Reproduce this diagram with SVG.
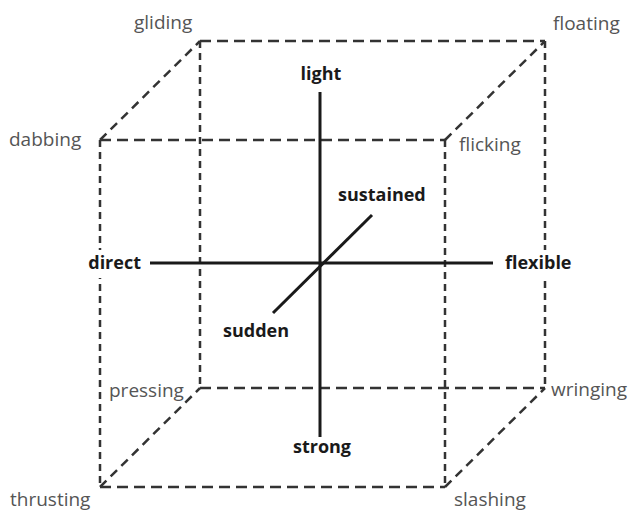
<svg xmlns="http://www.w3.org/2000/svg" width="630" height="511" viewBox="0 0 630 511">
<style>
.dh{stroke:#333;stroke-width:2.5;fill:none;stroke-dasharray:11 6}
.dv{stroke:#333;stroke-width:2.5;fill:none;stroke-dasharray:7 5}
.dd{stroke:#333;stroke-width:2.5;fill:none;stroke-dasharray:9 6}
.ax{stroke:#1a1a1a;stroke-width:3;fill:none}
.c{font-family:"Open Sans","DejaVu Sans",sans-serif;font-size:19px;fill:#555}
.b{font-family:"Open Sans","DejaVu Sans",sans-serif;font-size:18px;font-weight:bold;fill:#1a1a1a}
</style>
<rect width="630" height="511" fill="#fff"/>
<g id="connectors">
<line class="dh" x1="200" y1="41" x2="545" y2="41"/>
<line class="dh" x1="200" y1="388" x2="545" y2="388"/>
<line class="dv" x1="200" y1="41" x2="200" y2="388"/>
<line class="dv" x1="545" y1="41" x2="545" y2="388"/>
<line class="dh" x1="100" y1="140" x2="445" y2="140"/>
<line class="dh" x1="100" y1="487" x2="445" y2="487"/>
<line class="dv" x1="100" y1="140" x2="100" y2="487"/>
<line class="dv" x1="445" y1="140" x2="445" y2="487"/>
<line class="dd" x1="100" y1="140" x2="200" y2="41"/>
<line class="dd" x1="445" y1="140" x2="545" y2="41"/>
<line class="dd" x1="100" y1="487" x2="200" y2="388"/>
<line class="dd" x1="445" y1="487" x2="545" y2="388"/>
<rect x="84" y="250" width="60" height="28" fill="#fff"/>
<rect x="500" y="250" width="78" height="28" fill="#fff"/>
<line class="ax" x1="320" y1="92" x2="320" y2="437"/>
<line class="ax" x1="150" y1="263" x2="493" y2="263"/>
<line class="ax" x1="273" y1="313" x2="372" y2="215"/>
</g>
<g id="light"><text class="b" x="321" y="80" text-anchor="middle">light</text></g>
<g id="strong"><text class="b" x="322" y="453" text-anchor="middle">strong</text></g>
<g id="direct"><text class="b" x="141" y="269" text-anchor="end">direct</text></g>
<g id="flexible"><text class="b" x="505" y="269">flexible</text></g>
<g id="sustained"><text class="b" x="338" y="201">sustained</text></g>
<g id="sudden"><text class="b" x="223" y="337">sudden</text></g>
<g id="gliding"><text class="c" x="134" y="29">gliding</text></g>
<g id="floating"><text class="c" x="553" y="30">floating</text></g>
<g id="dabbing"><text class="c" x="9" y="146">dabbing</text></g>
<g id="flicking"><text class="c" x="459" y="151">flicking</text></g>
<g id="pressing"><text class="c" x="109" y="397">pressing</text></g>
<g id="wringing"><text class="c" x="551" y="396">wringing</text></g>
<g id="thrusting"><text class="c" x="10" y="506">thrusting</text></g>
<g id="slashing"><text class="c" x="454" y="506">slashing</text></g>
</svg>
